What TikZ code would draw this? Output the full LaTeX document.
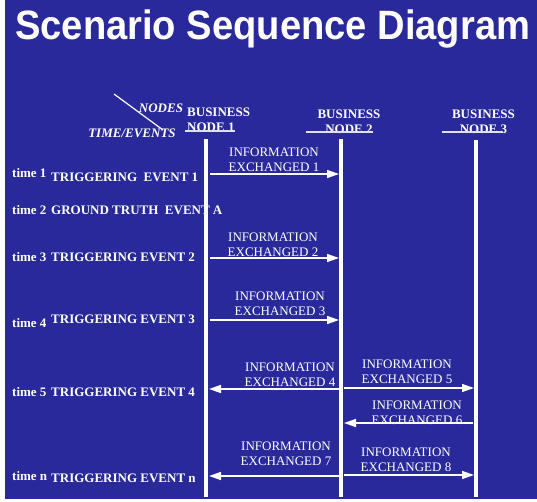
\documentclass[tikz,border=0pt]{standalone}
\usepackage{fontspec}
\setmainfont{Liberation Serif}
\newfontfamily\slidefont{Liberation Sans}
\usepackage {tikz}
\usetikzlibrary {positioning}
\usetikzlibrary{arrows.meta}
\definecolor{slideblue}{RGB}{41,41,156}
\tikzset{
    titletext/.style = {text=white, inner sep=0pt, anchor=base west,
        font=\slidefont\bfseries\fontsize{41}{41}\selectfont},
    lifeline/.style = {draw=white, line width=3.5pt},
    headline/.style = {draw=white!85!slideblue, line width=1.4pt},
    msg/.style = {draw=white, line width=1.5pt, -{Triangle[length=12pt,width=8pt]}},
    info/.style = {text=white, align=center, inner sep=0pt,
        font=\fontsize{13}{15}\selectfont},
    nodehead/.style = {text=white, align=center, inner sep=0pt,
        font=\fontsize{13}{15}\selectfont\bfseries},
    cornertext/.style = {text=white, inner sep=0pt,
        font=\fontsize{13}{15}\selectfont\bfseries\itshape},
    timelbl/.style = {text=white, anchor=west, inner sep=0pt,
        font=\fontsize{13}{15}\selectfont\bfseries},
    eventlbl/.style = {timelbl}}

\begin{document}
\begin{tikzpicture}[x=1pt,y=-1pt]
        \useasboundingbox (0,0) rectangle (537,502);
        \fill[slideblue] (5,0) rectangle (537,499);
        \node[titletext] (title) at (15,40) {\scalebox{0.93}[1]{Scenario Sequence Diagram}};
        % corner of the table
        \path (114,94) coordinate (diagA) (163,130) coordinate (diagB);
        \draw[white, line width=1.2pt] (diagA) -- (diagB);
        \node[cornertext] (nodes) at (161,108) {NODES};
        \node[cornertext] (timeev) at (132,133) {TIME/EVENTS};
        \node[nodehead, align=left, anchor=west] (bn1) at (187,120) {BUSINESS\\NODE 1};
        \node[nodehead] (bn2) at (349,122) {BUSINESS\\NODE 2};
        \node[nodehead] (bn3) at (483.5,122) {BUSINESS\\NODE 3};
        \path (185,131) coordinate (u1a) (235,131) coordinate (u1b)
              (306,132) coordinate (u2a) (373,132) coordinate (u2b)
              (442,132) coordinate (u3a) (503,132) coordinate (u3b);
        \draw[headline] (u1a) -- (u1b) (u2a) -- (u2b) (u3a) -- (u3b);
        % time column
        \node[timelbl] (t1) at (12,173) {time 1};
        \node[eventlbl] (e1) at (51,177) {TRIGGERING~ EVENT 1};
        \node[timelbl] (t2) at (12,210) {time 2};
        \node[eventlbl] (e2) at (51,210) {GROUND TRUTH~ EVENT A};
        \node[timelbl] (t3) at (12,257) {time 3};
        \node[eventlbl] (e3) at (51,257) {TRIGGERING EVENT 2};
        \node[timelbl] (t4) at (12,323) {time 4};
        \node[eventlbl] (e4) at (51,319) {TRIGGERING EVENT 3};
        \node[timelbl] (t5) at (12,392) {time 5};
        \node[eventlbl] (e5) at (51,392) {TRIGGERING EVENT 4};
        \node[timelbl] (tn) at (12,476) {time n};
        \node[eventlbl] (en) at (51,478) {TRIGGERING EVENT n};
        % lifelines
        \path (206,139) coordinate (l1top) (206,497) coordinate (l1bot)
              (341,139) coordinate (l2top) (341,497) coordinate (l2bot)
              (476,140) coordinate (l3top) (476,497) coordinate (l3bot);
        \draw[lifeline] (l1top) -- (l1bot) (l2top) -- (l2bot) (l3top) -- (l3bot);
        % messages
        \node[info] (i1) at (274,160) {INFORMATION\\EXCHANGED 1};
        \node[info] (i2) at (273,245) {INFORMATION\\EXCHANGED 2};
        \node[info] (i3) at (280,304) {INFORMATION\\EXCHANGED 3};
        \node[info] (i4) at (290,375) {INFORMATION\\EXCHANGED 4};
        \node[info] (i5) at (407,372) {INFORMATION\\EXCHANGED 5};
        \node[info] (i6) at (417,413) {INFORMATION\\EXCHANGED 6};
        \node[info] (i7) at (286,454) {INFORMATION\\EXCHANGED 7};
        \node[info] (i8) at (406,460) {INFORMATION\\EXCHANGED 8};
        \path (210,174) coordinate (m1a) (339,174) coordinate (m1b)
              (210,258) coordinate (m2a) (339,258) coordinate (m2b)
              (210,320) coordinate (m3a) (339,320) coordinate (m3b)
              (339,389) coordinate (m4a) (209,389) coordinate (m4b)
              (344,388) coordinate (m5a) (474,388) coordinate (m5b)
              (473,423) coordinate (m6a) (344,423) coordinate (m6b)
              (339,476) coordinate (m7a) (209,476) coordinate (m7b)
              (344,475) coordinate (m8a) (474,475) coordinate (m8b);
        \draw[msg] (m1a) -- (m1b);
        \draw[msg] (m2a) -- (m2b);
        \draw[msg] (m3a) -- (m3b);
        \draw[msg] (m4a) -- (m4b);
        \draw[msg] (m5a) -- (m5b);
        \draw[msg] (m6a) -- (m6b);
        \draw[msg] (m7a) -- (m7b);
        \draw[msg] (m8a) -- (m8b);
\end{tikzpicture}
\end{document}
